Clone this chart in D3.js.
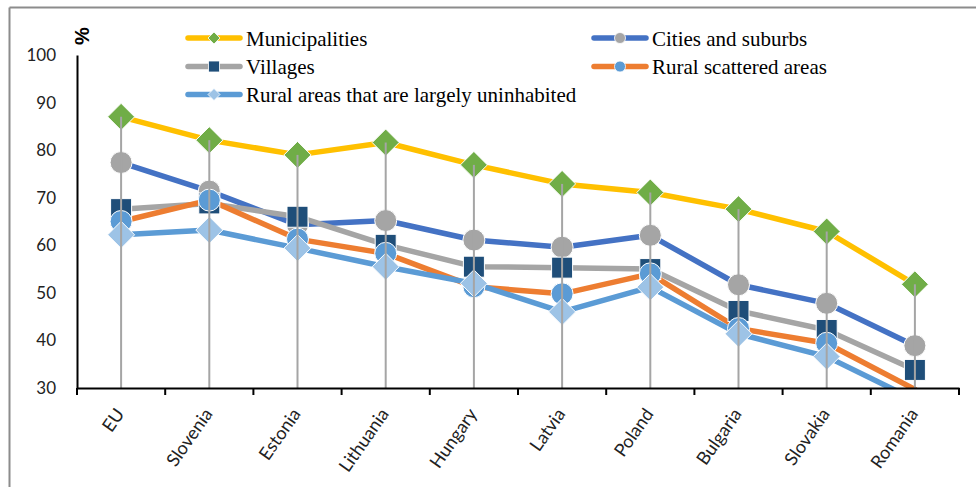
<!DOCTYPE html>
<html>
<head>
<meta charset="utf-8">
<script src="https://cdn.jsdelivr.net/npm/d3@7/dist/d3.min.js"></script>
<style>
  html, body { margin: 0; padding: 0; background: #fff; }
  svg { display: block; }
  .legend-text { font-family: "Liberation Serif", "DejaVu Serif", "Times New Roman", serif; }
</style>
</head>
<body>
<svg id="chart" width="976" height="487"></svg>
<script>
const categories = ["EU", "Slovenia", "Estonia", "Lithuania", "Hungary", "Latvia", "Poland", "Bulgaria", "Slovakia", "Romania"];
const municipalities = [87.0, 82.1, 79.0, 81.6, 76.9, 72.9, 71.1, 67.6, 62.9, 51.8];
const citiesSuburbs = [77.4, 71.4, 64.3, 65.2, 61.1, 59.6, 62.1, 51.7, 47.8, 38.9];
const villages = [67.6, 68.8, 66.0, 60.1, 55.5, 55.3, 55.0, 46.2, 42.2, 33.8];
const ruralScattered = [65.0, 69.5, 61.3, 58.3, 51.3, 49.8, 54.0, 42.5, 39.4, 29.7];
const ruralUninhabited = [62.2, 63.2, 59.4, 55.5, 52.0, 46.0, 51.2, 41.4, 36.6, 27.5];
const yTicks = [30, 40, 50, 60, 70, 80, 90, 100];

const series = [
  { name: "Municipalities", values: municipalities, line: "#FFC000", marker: "#70AD47", shape: "diamond" },
  { name: "Cities and suburbs", values: citiesSuburbs, line: "#4472C4", marker: "#A5A5A5", shape: "circle" },
  { name: "Villages", values: villages, line: "#A5A5A5", marker: "#1F4E79", shape: "square" },
  { name: "Rural scattered areas", values: ruralScattered, line: "#ED7D31", marker: "#5B9BD5", shape: "circle" },
  { name: "Rural areas that are largely uninhabited", values: ruralUninhabited, line: "#5B9BD5", marker: "#9DC3E6", shape: "diamond" }
];

const svg = d3.select("#chart");
const W = 976, H = 487;
const plot = { left: 77, right: 959, top: 55, bottom: 388 };

// outer frame (only top and left edges visible in reference)
svg.append("line").attr("x1", 9.5).attr("x2", W).attr("y1", 7.5).attr("y2", 7.5)
  .attr("stroke", "#8C8C8C").attr("stroke-width", 2);
svg.append("line").attr("x1", 9.5).attr("x2", 9.5).attr("y1", 7.5).attr("y2", H)
  .attr("stroke", "#8C8C8C").attr("stroke-width", 2);

const x = d3.scaleBand().domain(categories).range([plot.left, plot.right]).padding(0);
const y = d3.scaleLinear().domain([30, 100]).range([plot.bottom, plot.top]);
const cx = c => x(c) + x.bandwidth() / 2;

svg.append("defs").append("clipPath").attr("id", "clip")
  .append("rect").attr("x", plot.left).attr("y", plot.top - 20)
  .attr("width", plot.right - plot.left).attr("height", plot.bottom - plot.top + 20);

// Y axis
const yAxis = d3.axisLeft(y).tickValues(yTicks).tickSize(0).tickPadding(21);
const gy = svg.append("g").attr("transform", `translate(${plot.left},0)`).call(yAxis);
gy.select(".domain").attr("stroke", "#000").attr("stroke-width", 2);
gy.selectAll("text").attr("font-family", "Lato, 'Open Sans', sans-serif").attr("font-size", 17).attr("fill", "#222");

// % label
svg.append("text").attr("transform", `translate(89,36) rotate(-90)`)
  .attr("text-anchor", "middle").attr("font-family", "'Liberation Sans', Arial, sans-serif")
  .attr("font-weight", "bold").attr("font-size", 20).attr("fill", "#000").text("%");

const g = svg.append("g").attr("clip-path", "url(#clip)");

// lines
const lineGen = d3.line().x((d, i) => cx(categories[i])).y(d => y(d));
series.forEach(s => {
  g.append("path").datum(s.values).attr("d", lineGen)
    .attr("fill", "none").attr("stroke", s.line).attr("stroke-width", 5.5)
    .attr("stroke-linejoin", "round").attr("stroke-linecap", "round");
});

// markers
function drawMarker(sel, shape, fill, size) {
  let m;
  if (shape === "circle") {
    m = sel.append("circle").attr("r", size / 2);
  } else if (shape === "square") {
    m = sel.append("rect").attr("x", -size / 2).attr("y", -size / 2).attr("width", size).attr("height", size);
  } else {
    const h = size / 2;
    m = sel.append("path").attr("d", `M0,${-h}L${h},0L0,${h}L${-h},0Z`);
  }
  return m.attr("fill", fill);
}
const sizes = { circle: 22, square: 21, diamond: 27 };
series.forEach(s => {
  s.values.forEach((v, i) => {
    if (v < 30) return;
    const mg = g.append("g").attr("transform", `translate(${cx(categories[i])},${y(v)})`);
    drawMarker(mg, s.shape, s.marker, sizes[s.shape]).attr("stroke", "#fff").attr("stroke-width", 1);
  });
});

// drop lines (on top)
categories.forEach((c, i) => {
  const top = d3.max(series, s => s.values[i]);
  svg.append("line").attr("x1", cx(c)).attr("x2", cx(c))
    .attr("y1", y(top)).attr("y2", plot.bottom)
    .attr("stroke", "#A5A5A5").attr("stroke-width", 2);
});

// X axis
const xAxis = d3.axisBottom(x).tickSize(0).tickFormat("");
const gx = svg.append("g").attr("transform", `translate(0,${plot.bottom})`).call(xAxis);
gx.select(".domain").attr("stroke", "#000").attr("stroke-width", 2);
const bounds = categories.map(c => x(c)).concat([plot.right]);
gx.selectAll(".bound").data(bounds).enter().append("line")
  .attr("x1", d => d).attr("x2", d => d).attr("y1", 0).attr("y2", 7)
  .attr("stroke", "#000").attr("stroke-width", 2);

svg.append("g").selectAll("text").data(categories).enter().append("text")
  .attr("transform", c => `translate(${cx(c) + 4},${plot.bottom + 26}) rotate(-55)`)
  .attr("text-anchor", "end")
  .attr("font-family", "Lato, 'Open Sans', sans-serif").attr("font-size", 18).attr("fill", "#222")
  .text(c => c);

// legend
const legendItems = [
  { s: series[0], x: 186, y: 38 },
  { s: series[2], x: 186, y: 66.5 },
  { s: series[4], x: 186, y: 94.5 },
  { s: series[1], x: 592, y: 38 },
  { s: series[3], x: 592, y: 66.5 }
];
const legSizes = { circle: 11, square: 11, diamond: 12 };
legendItems.forEach(it => {
  const lg = svg.append("g").attr("transform", `translate(${it.x},${it.y})`);
  lg.append("line").attr("x1", 2).attr("x2", 54).attr("y1", 0).attr("y2", 0)
    .attr("stroke", it.s.line).attr("stroke-width", 5.5).attr("stroke-linecap", "round");
  const mg = lg.append("g").attr("transform", "translate(28,0)");
  drawMarker(mg, it.s.shape, it.s.marker, legSizes[it.s.shape]).attr("stroke", "#fff").attr("stroke-width", 0.8);
  lg.append("text").attr("class", "legend-text").attr("x", 60).attr("y", 7.5)
    .attr("font-size", 21).attr("fill", "#000").text(it.s.name);
});
</script>
</body>
</html>
